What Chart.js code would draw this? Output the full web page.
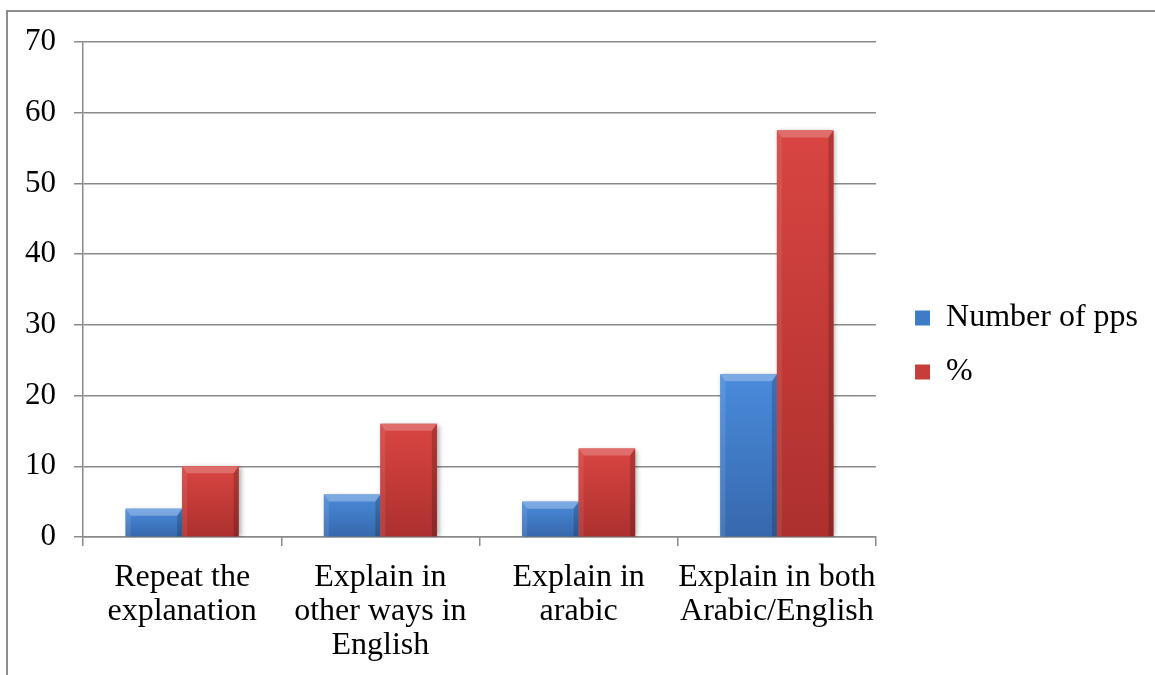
<!DOCTYPE html>
<html>
<head>
<meta charset="utf-8">
<title>Explanation strategies</title>
<script src="https://cdn.jsdelivr.net/npm/chart.js@4/dist/chart.umd.min.js"></script>
<style>
  html, body { margin: 0; padding: 0; background: #fff; overflow: hidden; }
  body { width: 1155px; height: 675px; position: relative; }
  #frame {
    position: absolute; left: 6px; top: 10px; width: 1200px; height: 720px;
    border-left: 2px solid #8d8d8d; border-top: 2px solid #8d8d8d;
  }
  #wrap { position: absolute; left: 8px; top: 11px; width: 1147px; height: 698px; }
</style>
</head>
<body>
<div id="frame"></div>
<div id="wrap"><canvas id="chart"></canvas></div>
<script>
const categories = [
  ["Repeat the", "explanation"],
  ["Explain in", "other ways in", "English"],
  ["Explain in", "arabic"],
  ["Explain in both", "Arabic/English"]
];
const seriesNames = ["Number of pps", "%"];
const pps = [4, 6, 5, 23];
const percent = [10, 16, 12.5, 57.5];
const yTicks = [0, 10, 20, 30, 40, 50, 60, 70];

const FONT = "'Liberation Serif', 'Times New Roman', serif";
const GRID = "#8a8a8a";

// face + bevel shades per series
const tones = [
  { base: "#3d7cc9", faceTop: "#4a8bdb", faceBottom: "#3668ad", top: "rgba(255,255,255,0.28)", left: "rgba(255,255,255,0.10)", right: "rgba(0,0,0,0.18)" },
  { base: "#c63d3a", faceTop: "#d94542", faceBottom: "#ad302e", top: "rgba(255,255,255,0.22)", left: "rgba(255,255,255,0.08)", right: "rgba(0,0,0,0.18)" }
];

function poly(ctx, pts, fill) {
  ctx.beginPath();
  ctx.moveTo(pts[0][0], pts[0][1]);
  for (let i = 1; i < pts.length; i++) ctx.lineTo(pts[i][0], pts[i][1]);
  ctx.closePath();
  ctx.fillStyle = fill;
  ctx.fill();
}

// soft shadow under the bars, then a bevelled face on top of each one
const bevelPlugin = {
  id: "bevel",
  beforeDatasetsDraw(chart) {
    const ctx = chart.ctx;
    ctx.save();
    ctx.shadowColor = "rgba(0,0,0,0.35)";
    ctx.shadowBlur = 5;
    ctx.shadowOffsetX = 2;
    ctx.shadowOffsetY = 1;
  },
  afterDatasetsDraw(chart) {
    const ctx = chart.ctx;
    ctx.restore();
    chart.data.datasets.forEach((ds, di) => {
      const tone = tones[di];
      chart.getDatasetMeta(di).data.forEach(bar => {
        const p = bar.getProps(["x", "y", "base", "width"], true);
        const l = p.x - p.width / 2, r = p.x + p.width / 2;
        const t = p.y, b = p.base, h = b - t;
        const e = Math.min(7, h / 3);
        const s = Math.min(5, h / 3);
        const g = ctx.createLinearGradient(0, t, 0, b);
        g.addColorStop(0, tone.faceTop);
        g.addColorStop(1, tone.faceBottom);
        ctx.fillStyle = g;
        ctx.fillRect(l, t, p.width, h);
        poly(ctx, [[l, t], [r, t], [r - s, t + e], [l + s, t + e]], tone.top);
        poly(ctx, [[l, t], [l + s, t + e], [l + s, b], [l, b]], tone.left);
        poly(ctx, [[r, t], [r - s, t + e], [r - s, b], [r, b]], tone.right);
      });
    });
  }
};

// the category labels run three lines deep, so let them draw below the axis box
const labelRoom = {
  id: "labelRoom",
  afterLayout(chart) {
    chart.scales.x.bottom = chart.height;
  }
};

const ctx = document.getElementById("chart").getContext("2d");
new Chart(ctx, {
  type: "bar",
  data: {
    labels: categories,
    datasets: [
      { label: seriesNames[0], data: pps, backgroundColor: tones[0].base, borderWidth: 0 },
      { label: seriesNames[1], data: percent, backgroundColor: tones[1].base, borderWidth: 0 }
    ]
  },
  options: {
    responsive: true,
    maintainAspectRatio: false,
    animation: false,
    layout: { padding: { top: 31, right: 7, bottom: 61, left: 0 } },
    datasets: {
      bar: { categoryPercentage: 0.57, barPercentage: 1 }
    },
    plugins: {
      tooltip: { enabled: false },
      legend: {
        position: "right",
        align: "center",
        maxWidth: 400,
        labels: {
          font: { family: FONT, size: 32 },
          color: "#000",
          boxWidth: 15,
          boxHeight: 15,
          padding: 22
        }
      }
    },
    scales: {
      x: {
        grid: { display: true, drawOnChartArea: false, drawTicks: true, tickLength: 9, color: GRID, lineWidth: 1.5, offset: true },
        border: { display: true, color: GRID, width: 1.5 },
        ticks: {
          font: { family: FONT, size: 32, lineHeight: 1.06 },
          color: "#000",
          maxRotation: 0,
          autoSkip: false,
          padding: 15
        },
        afterFit(scale) { scale.height = 111; }
      },
      y: {
        min: yTicks[0],
        max: yTicks[yTicks.length - 1],
        afterBuildTicks(scale) { scale.ticks = yTicks.map(v => ({ value: v })); },
        grid: { color: GRID, lineWidth: 1.5, tickLength: 9 },
        border: { display: true, color: GRID, width: 1.5 },
        ticks: {
          font: { family: FONT, size: 31 },
          color: "#000",
          padding: 18
        },
        afterFit(scale) {
          scale.width = 75;
          scale.paddingTop = 0;
          scale.paddingBottom = 0;
        }
      },
      gap: {
        type: "linear",
        position: "right",
        display: true,
        grid: { display: false },
        border: { display: false },
        ticks: { display: false },
        afterFit(scale) { scale.width = 17; }
      }
    }
  },
  plugins: [bevelPlugin, labelRoom]
});
</script>
</body>
</html>
